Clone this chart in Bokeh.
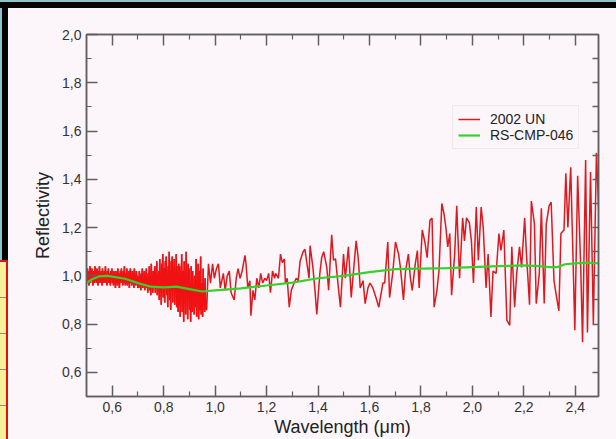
import numpy as np
from bokeh.plotting import figure
from bokeh.models import (LinearAxis, FixedTicker, Legend, LegendItem, Range1d, Div,
                          CustomLabelingPolicy)
from bokeh.layouts import column, row
from bokeh.embed import file_html
from bokeh.resources import INLINE

# ---------------- data ----------------
# 2002 UN, visible part (dense spectrum), evenly sampled between vis_start and vis_end
vis_start, vis_end = 0.500, 0.963
vis_refl = [
    1.01, 0.97, 1.03, 0.98, 1.02, 0.96, 1.00, 1.04, 0.97, 1.01,
    0.98, 1.03, 0.99, 0.96, 1.02, 1.00, 0.97, 1.04, 0.98, 1.01,
    0.97, 1.03, 1.00, 0.96, 1.02, 0.99, 1.04, 0.97, 1.01, 0.98,
    1.02, 0.96, 1.03, 0.99, 1.00, 0.97, 1.02, 0.98, 1.04, 0.97,
    1.00, 0.96, 1.02, 0.99, 1.03, 0.97, 1.01, 0.98, 0.96, 1.02,
    0.99, 1.03, 0.97, 1.00, 0.96, 1.02, 0.98, 1.01, 0.95, 1.02,
    0.98, 1.00, 0.96, 1.03, 0.97, 1.01, 0.95, 0.99, 1.02, 0.97,
    1.03, 0.98, 1.00, 0.96, 1.02, 0.97, 1.04, 0.99, 0.96, 1.01,
    0.98, 1.03, 0.96, 1.00, 0.97, 1.02, 0.95, 0.99, 1.03, 0.97,
    1.00, 0.96, 1.02, 0.98, 1.01, 0.95, 1.03, 0.97, 0.99, 0.96,
    1.02, 0.98, 1.00, 0.95,
    0.99, 0.95, 1.02, 0.96, 1.00, 0.94, 1.01, 0.97, 1.03, 0.95,
    0.99, 0.96, 1.02, 0.94, 1.00, 0.97, 1.03, 0.95, 0.98, 0.93,
    1.01, 0.96, 1.04, 0.94, 0.99, 0.92, 1.05, 0.96, 1.00, 0.93,
    1.02, 0.95, 0.98, 1.04, 0.93, 1.01, 0.96, 1.06, 0.92, 1.00,
    0.95,
    1.02, 0.90, 1.07, 0.94, 1.00, 0.88, 1.05, 0.97, 1.09, 0.91,
    1.03, 0.95, 0.89, 1.06, 0.98, 1.08, 0.92, 1.01, 0.87, 1.04,
    0.96, 1.10, 0.90, 1.02, 0.86, 1.06, 0.94, 1.08, 0.89, 1.03,
    0.95, 1.07, 0.88, 1.00, 0.93, 1.09, 0.87, 1.04, 0.97, 0.85,
    1.05,
    0.88, 1.04, 0.83, 1.00, 0.92, 1.09, 0.85, 1.02, 0.95, 0.81,
    1.06, 0.89, 1.01, 0.84, 1.10, 0.93, 0.98, 0.82, 1.05, 0.90,
    1.03, 0.86, 0.97, 0.81, 1.04, 0.91, 0.85, 1.02, 0.88, 0.96,
    0.84, 1.00, 0.87, 0.93, 1.07, 0.83, 0.99, 0.90, 1.05, 0.82,
    0.95, 1.02, 0.86, 1.08, 0.84, 0.97, 0.91, 0.83, 1.03, 0.88,
    0.94, 0.85, 0.99, 0.87,
]

# 2002 UN, near-infrared part
nir_wl = [
    0.967, 0.974, 0.982, 0.990, 0.997, 1.005, 1.013, 1.020, 1.032, 1.039, 1.047, 1.055, 1.062, 1.074, 1.082, 1.089,
    1.097, 1.105, 1.116, 1.120, 1.127, 1.135, 1.139, 1.147, 1.154, 1.162, 1.170, 1.177, 1.185, 1.193, 1.200, 1.208,
    1.215, 1.223, 1.231, 1.235, 1.246, 1.254, 1.261, 1.269, 1.273, 1.280, 1.288, 1.296, 1.307, 1.315, 1.323, 1.330,
    1.342, 1.349, 1.357, 1.365, 1.369, 1.380, 1.388, 1.395, 1.407, 1.414, 1.422, 1.434, 1.441, 1.453, 1.460, 1.468,
    1.479, 1.487, 1.499, 1.506, 1.518, 1.529, 1.537, 1.548, 1.556, 1.564, 1.575, 1.583, 1.594, 1.602, 1.613, 1.625,
    1.636, 1.652, 1.659, 1.671, 1.678, 1.690, 1.701, 1.713, 1.720, 1.732, 1.740, 1.751, 1.759, 1.766, 1.778, 1.786,
    1.793, 1.805, 1.816, 1.824, 1.835, 1.843, 1.851, 1.862, 1.870, 1.881, 1.889, 1.897, 1.904, 1.912, 1.919, 1.931,
    1.939, 1.950, 1.962, 1.969, 1.977, 1.988, 1.996, 2.004, 2.015, 2.023, 2.034, 2.042, 2.053, 2.061, 2.072, 2.080,
    2.092, 2.103, 2.111, 2.122, 2.134, 2.145, 2.153, 2.164, 2.172, 2.183, 2.191, 2.203, 2.210, 2.222, 2.229, 2.241,
    2.248, 2.260, 2.268, 2.279, 2.287, 2.298, 2.306, 2.317, 2.325, 2.336, 2.344, 2.356, 2.363, 2.371, 2.382, 2.398,
    2.409, 2.421, 2.428, 2.440, 2.447, 2.459, 2.470, 2.482, 2.493,
]
nir_refl = [
    0.857, 1.05, 0.97, 1.05, 0.99, 1.03, 1.05, 0.95, 1.01, 0.94, 1.00, 1.02, 0.93, 0.90, 0.99, 1.03,
    0.99, 1.02, 1.085, 1.05, 0.95, 0.98, 0.835, 0.94, 0.90, 0.99, 0.95, 1.01, 0.97, 0.99, 0.98, 1.01,
    0.93, 1.02, 0.99, 1.01, 0.99, 1.09, 1.055, 1.07, 0.97, 0.99, 0.87, 0.94, 0.97, 0.99, 0.98, 1.06,
    1.10, 1.11, 1.05, 0.99, 1.125, 1.035, 0.94, 0.84, 1.01, 1.075, 1.10, 1.035, 0.94, 1.17, 1.065, 1.07,
    0.95, 0.87, 1.09, 0.99, 1.12, 0.91, 1.01, 1.145, 1.075, 0.95, 0.98, 0.885, 0.95, 0.97, 0.95, 0.91,
    0.87, 0.97, 0.97, 1.14, 0.91, 1.01, 1.14, 1.09, 1.035, 0.90, 1.02, 1.09, 0.99, 0.94, 1.05, 1.105,
    0.95, 1.19, 1.135, 1.075, 1.23, 1.24, 0.87, 0.94, 1.02, 1.30, 1.26, 1.20, 1.12, 1.175, 0.92, 1.09,
    1.29, 0.99, 1.24, 1.145, 1.24, 1.22, 1.145, 0.97, 1.285, 1.065, 1.285, 1.20, 0.95, 1.09, 0.83, 1.02,
    1.01, 1.175, 1.105, 1.19, 0.815, 0.795, 1.12, 0.87, 1.01, 1.12, 1.035, 1.24, 1.09, 0.88, 1.31, 1.215,
    0.885, 1.01, 1.28, 0.885, 1.215, 1.29, 1.305, 0.98, 0.925, 0.855, 1.175, 1.19, 1.425, 1.20, 1.45, 0.775,
    1.415, 1.035, 0.725, 1.48, 0.765, 1.43, 0.80, 1.51, 1.215,
]

# RS-CMP-046 laboratory spectrum
model_wl = [0.50, 0.52, 0.55, 0.58, 0.60, 0.65, 0.70, 0.75, 0.80, 0.85, 0.90, 0.95, 1.00, 1.10, 1.20, 1.30,
            1.40, 1.50, 1.60, 1.70, 1.80, 1.90, 2.00, 2.10, 2.20, 2.26, 2.30, 2.33, 2.36, 2.40, 2.45, 2.49]
model_refl = [0.970, 0.985, 0.998, 1.000, 0.997, 0.988, 0.970, 0.955, 0.952, 0.955, 0.945, 0.935, 0.940, 0.948,
              0.960, 0.972, 0.990, 1.000, 1.015, 1.028, 1.030, 1.032, 1.036, 1.040, 1.043, 1.040, 1.036, 1.036,
              1.048, 1.052, 1.055, 1.052]

x_ticks = [0.6, 0.8, 1.0, 1.2, 1.4, 1.6, 1.8, 2.0, 2.2, 2.4]
x_tick_labels = ["0,6", "0,8", "1,0", "1,2", "1,4", "1,6", "1,8", "2,0", "2,2", "2,4"]
x_minor_ticks = [0.7, 0.9, 1.1, 1.3, 1.5, 1.7, 1.9, 2.1, 2.3]
y_ticks = [0.6, 0.8, 1.0, 1.2, 1.4, 1.6, 1.8, 2.0]
y_tick_labels = ["0,6", "0,8", "1,0", "1,2", "1,4", "1,6", "1,8", "2,0"]
y_minor_ticks = [0.7, 0.9, 1.1, 1.3, 1.5, 1.7, 1.9]
y_right_ticks = [0.6, 0.7, 0.8, 0.9, 1.0, 1.1, 1.2, 1.3, 1.4, 1.5, 1.6, 1.7, 1.8, 1.9]

# ---------------- figure ----------------
FONT = "Liberation Sans"
BG = "#fcf6fb"
AX = "#5f5f5f"
RED_VIS = "#f01212"
RED_NIR = "#da1a1e"
GREEN = "#36d22c"

vis_wl = np.linspace(vis_start, vis_end, len(vis_refl))
red_wl = np.concatenate([vis_wl, nir_wl])
red_refl = np.concatenate([vis_refl, nir_refl])

p = figure(width=608, height=431, output_backend="svg", toolbar_location=None,
           x_range=Range1d(0.5, 2.49), y_range=Range1d(0.5, 2.0),
           min_border_left=78, min_border_right=10, min_border_top=26, min_border_bottom=42,
           background_fill_color=BG, border_fill_color=BG, outline_line_color=AX,
           outline_line_width=1.5, margin=0)
p.grid.visible = False

r_red = p.line(red_wl, red_refl, line_color=RED_NIR, line_width=1.5)
p.line(vis_wl, vis_refl, line_color=RED_VIS, line_width=1.5)
r_green = p.line(model_wl, model_refl, line_color=GREEN, line_width=2.2)

no_labels = CustomLabelingPolicy(
    code="const n = indices.size; for (let i = 0; i < n; i++) { indices.unset(i) } return indices")


def style_axis(ax, ticks, minor, labels=None):
    ax.ticker = FixedTicker(ticks=ticks, minor_ticks=minor)
    ax.axis_line_color = AX
    ax.axis_line_width = 1.5
    ax.major_tick_line_color = AX
    ax.major_tick_line_width = 1.5
    ax.minor_tick_line_color = AX
    ax.minor_tick_line_width = 1.2
    ax.major_tick_in = 11
    ax.major_tick_out = 0
    ax.minor_tick_in = 5
    ax.minor_tick_out = 0
    if labels is not None:
        ax.major_label_overrides = {t: l for t, l in zip(ticks, labels)}
        ax.major_label_text_font = FONT
        ax.major_label_text_font_size = "14px"
        ax.major_label_text_color = "#333333"
    else:
        ax.major_label_policy = no_labels
        ax.major_label_standoff = 0


xa = p.xaxis[0]
style_axis(xa, x_ticks, x_minor_ticks, x_tick_labels)
xa.major_label_standoff = 5
xa.axis_label = "Wavelength (μm)"
xa.axis_label_text_font = FONT
xa.axis_label_text_font_size = "18px"
xa.axis_label_text_font_style = "normal"
xa.axis_label_text_color = "#222222"
xa.axis_label_standoff = 2

ya = p.yaxis[0]
style_axis(ya, y_ticks, y_minor_ticks, y_tick_labels)
ya.major_label_standoff = 5
ya.axis_label = "Reflectivity"
ya.axis_label_text_font = FONT
ya.axis_label_text_font_size = "18px"
ya.axis_label_text_font_style = "normal"
ya.axis_label_text_color = "#222222"
ya.axis_label_standoff = 6

top = LinearAxis()
style_axis(top, x_ticks, x_minor_ticks)
p.add_layout(top, "above")

right = LinearAxis()
style_axis(right, y_right_ticks, [])
right.major_tick_in = 6
p.add_layout(right, "right")

legend = Legend(items=[LegendItem(label="2002 UN", renderers=[r_red]),
                       LegendItem(label="RS-CMP-046", renderers=[r_green])],
                location=(366, 247), label_text_font=FONT, label_text_font_size="14px",
                label_text_color="#222222", glyph_width=22, glyph_height=16, label_height=16,
                label_standoff=10, spacing=0, padding=5, margin=0,
                background_fill_color=BG, background_fill_alpha=1.0,
                border_line_color="#dedede", border_line_width=1)
p.add_layout(legend, "center")

# ---------------- screenshot framing (presentation window edges) ----------------
TEAL = "#8fc3c8"
BLACK = "#050505"


def block(w, h, styles):
    return Div(text="", width=w, height=h, margin=0, styles=styles)


top_teal = block(616, 2, {"background-color": TEAL})
top_black = block(616, 6, {"background-color": BLACK})
left_dark = block(8, 252, {"background": f"linear-gradient(to right, {TEAL} 0px, {TEAL} 2px, {BLACK} 2px, {BLACK} 8px)"})
left_yellow = block(8, 179, {
    "background": "repeating-linear-gradient(to bottom, #f7f29a 0px, #f7f29a 35px, #8a8a8a 35px, #8a8a8a 36px)",
    "border-top": "2px solid #e01010", "border-right": "2px solid #e01010", "box-sizing": "border-box"})

layout = column(top_teal, top_black,
                row(column(left_dark, left_yellow, spacing=0, margin=0), p, spacing=0, margin=0),
                spacing=0, margin=0, styles={"background-color": BG})

open("out.html", "w").write(file_html(layout, INLINE))
